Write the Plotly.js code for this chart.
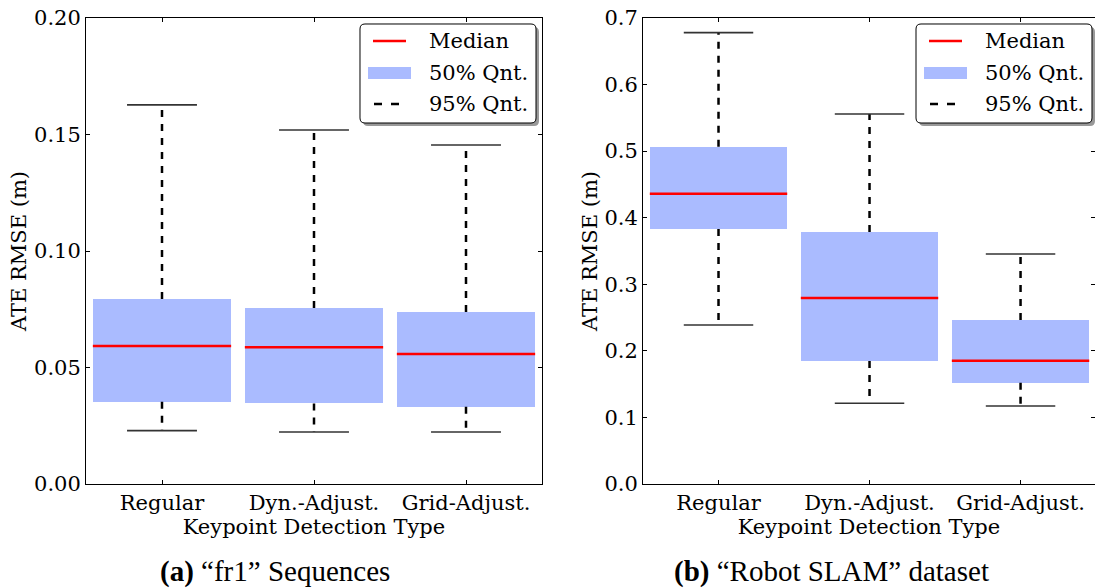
<!DOCTYPE html>
<html>
<head>
<meta charset="utf-8">
<script src="https://cdn.plot.ly/plotly-3.0.1.min.js"></script>
<style>html,body{margin:0;padding:0;background:#fff;}#chart{width:1095px;height:588px;}</style>
</head>
<body>
<div id="chart"></div>
<script>
// ---- data ----
const categories = ["Regular", "Dyn.-Adjust.", "Grid-Adjust."];
// (a) "fr1" Sequences
const fr1Lower95 = [0.0229, 0.0223, 0.0223];
const fr1Q25     = [0.0353, 0.0346, 0.0332];
const fr1Median  = [0.0592, 0.0587, 0.0558];
const fr1Q75     = [0.0794, 0.0755, 0.0738];
const fr1Upper95 = [0.1627, 0.1519, 0.1455];
// (b) "Robot SLAM" dataset
const slamLower95 = [0.2388, 0.1212, 0.1172];
const slamQ25     = [0.3830, 0.1848, 0.1522];
const slamMedian  = [0.4361, 0.2794, 0.1852];
const slamQ75     = [0.5067, 0.3785, 0.2464];
const slamUpper95 = [0.6780, 0.5558, 0.3455];
const fr1Ticks  = [0, 0.05, 0.10, 0.15, 0.20];
const slamTicks = [0, 0.1, 0.2, 0.3, 0.4, 0.5, 0.6, 0.7];
const legendLabels = ["Median", "50% Qnt.", "95% Qnt."];
const captions = ["<b>(a)</b> \u201cfr1\u201d Sequences", "<b>(b)</b> \u201cRobot SLAM\u201d dataset"];

// ---- styling ----
const W = 1095, H = 588;
const BOX = '#aabbff', MED = '#ff0000';
const FONT = "'DejaVu Serif', serif";
const CAPFONT = "'Liberation Serif', 'Times New Roman', serif";
const BOXW = 0.91, CAPW = 0.46;
const px = x => x / W;
const py = y => 1 - y / H;

const pos = categories.map((c, i) => i + 1);

function panelTraces(lo, q25, med, q75, hi, xa, ya) {
  const t = [];
  t.push({type: 'bar', x: pos, base: q25, y: q75.map((v, i) => v - q25[i]), width: BOXW,
          marker: {color: BOX, line: {width: 0}}, xaxis: xa, yaxis: ya, hoverinfo: 'skip'});
  const wx = [], wy = [];
  pos.forEach((p, i) => { wx.push(p, p, null, p, p, null); wy.push(q75[i], hi[i], null, q25[i], lo[i], null); });
  t.push({type: 'scatter', mode: 'lines', x: wx, y: wy, line: {color: '#000', width: 2.5, dash: '7px,7px'},
          xaxis: xa, yaxis: ya, hoverinfo: 'skip'});
  const cx = [], cy = [];
  pos.forEach((p, i) => { cx.push(p - CAPW/2, p + CAPW/2, null, p - CAPW/2, p + CAPW/2, null);
                          cy.push(hi[i], hi[i], null, lo[i], lo[i], null); });
  t.push({type: 'scatter', mode: 'lines', x: cx, y: cy, line: {color: '#333', width: 1.6},
          xaxis: xa, yaxis: ya, hoverinfo: 'skip'});
  const mx = [], my = [];
  pos.forEach((p, i) => { mx.push(p - BOXW/2, p + BOXW/2, null); my.push(med[i], med[i], null); });
  t.push({type: 'scatter', mode: 'lines', x: mx, y: my, line: {color: MED, width: 2.6},
          xaxis: xa, yaxis: ya, hoverinfo: 'skip'});
  return t;
}

const data = [].concat(
  panelTraces(fr1Lower95, fr1Q25, fr1Median, fr1Q75, fr1Upper95, 'x', 'y'),
  panelTraces(slamLower95, slamQ25, slamMedian, slamQ75, slamUpper95, 'x2', 'y2')
);

const tickFont = {family: FONT, size: 21, color: '#000'};
const titleFont = {family: FONT, size: 21, color: '#000'};
function xAxis(domain, range) {
  return {domain: domain, range: range, tickvals: pos, ticktext: categories, tickfont: tickFont,
          ticks: 'inside', ticklen: 4, tickcolor: '#000', showline: true, linecolor: '#000', linewidth: 1,
          mirror: 'ticks', showgrid: false, zeroline: false, fixedrange: true,
          title: {text: 'Keypoint Detection Type', font: titleFont, standoff: 3}};
}
function yAxis(domain, range, ticks, fmt, anchor) {
  return {domain: domain, range: range, tickvals: ticks, tickformat: fmt, tickfont: tickFont,
          ticks: 'inside', ticklen: 4, tickcolor: '#000', showline: true, linecolor: '#000', linewidth: 1,
          mirror: 'ticks', showgrid: false, zeroline: false, anchor: anchor, fixedrange: true,
          title: {text: 'ATE RMSE (m)', font: titleFont, standoff: 1}};
}
const yDom = [py(484), py(18)];

// legend drawn as shapes + annotations
function roundRect(x0, y0, x1, y1, r) {
  const X = v => px(v).toFixed(6), Y = v => py(v).toFixed(6);
  return `M ${X(x0 + r)} ${Y(y0)} L ${X(x1 - r)} ${Y(y0)} Q ${X(x1)} ${Y(y0)} ${X(x1)} ${Y(y0 + r)} ` +
         `L ${X(x1)} ${Y(y1 - r)} Q ${X(x1)} ${Y(y1)} ${X(x1 - r)} ${Y(y1)} L ${X(x0 + r)} ${Y(y1)} ` +
         `Q ${X(x0)} ${Y(y1)} ${X(x0)} ${Y(y1 - r)} L ${X(x0)} ${Y(y0 + r)} Q ${X(x0)} ${Y(y0)} ${X(x0 + r)} ${Y(y0)} Z`;
}
const shapes = [], annotations = [];
function legendAt(x0) {
  const y0 = 24, w = 176, h = 99;
  shapes.push({type: 'path', xref: 'paper', yref: 'paper', path: roundRect(x0 + 3, y0 + 3, x0 + w + 3, y0 + h + 3, 5),
               fillcolor: '#999', line: {width: 0}, layer: 'above'});
  shapes.push({type: 'path', xref: 'paper', yref: 'paper', path: roundRect(x0, y0, x0 + w, y0 + h, 5),
               fillcolor: '#fff', line: {color: '#000', width: 1}, layer: 'above'});
  shapes.push({type: 'line', xref: 'paper', yref: 'paper', x0: px(x0 + 13), x1: px(x0 + 46), y0: py(41), y1: py(41),
               line: {color: MED, width: 2.6}, layer: 'above'});
  shapes.push({type: 'rect', xref: 'paper', yref: 'paper', x0: px(x0 + 8), x1: px(x0 + 51), y0: py(67), y1: py(79),
               fillcolor: BOX, line: {width: 0}, layer: 'above'});
  shapes.push({type: 'line', xref: 'paper', yref: 'paper', x0: px(x0 + 14), x1: px(x0 + 39), y0: py(104), y1: py(104),
               line: {color: '#000', width: 2.5, dash: '8px,9px'}, layer: 'above'});
  [41, 73, 104].forEach((yy, k) => {
    annotations.push({xref: 'paper', yref: 'paper', x: px(x0 + 67), y: py(yy), xanchor: 'left', yanchor: 'middle',
                      text: legendLabels[k], showarrow: false, font: {family: FONT, size: 21, color: '#000'}});
  });
}
legendAt(360);
legendAt(916);

annotations.push({xref: 'paper', yref: 'paper', x: px(275), y: py(571), xanchor: 'center', yanchor: 'middle',
                  text: captions[0], showarrow: false, font: {family: CAPFONT, size: 29, color: '#000'}});
annotations.push({xref: 'paper', yref: 'paper', x: px(831), y: py(571), xanchor: 'center', yanchor: 'middle',
                  text: captions[1], showarrow: false, font: {family: CAPFONT, size: 29, color: '#000'}});

const layout = {
  width: W, height: H,
  margin: {l: 0, r: 0, t: 0, b: 0, pad: 0},
  paper_bgcolor: '#fff', plot_bgcolor: '#fff',
  showlegend: false, hovermode: false, barmode: 'overlay', bargap: 0,
  xaxis: xAxis([px(86), px(542)], [0.5, 3.5]),
  yaxis: yAxis(yDom, [0, 0.20], fr1Ticks, '.2f', 'x'),
  xaxis2: Object.assign(xAxis([px(643), 1], [0.5, 3.493]), {anchor: 'y2'}),
  yaxis2: yAxis(yDom, [0, 0.7], slamTicks, '.1f', 'x2'),
  shapes: shapes, annotations: annotations
};
layout.xaxis.anchor = 'y';

Plotly.newPlot('chart', data, layout, {staticPlot: true, displayModeBar: false});
</script>
</body>
</html>
